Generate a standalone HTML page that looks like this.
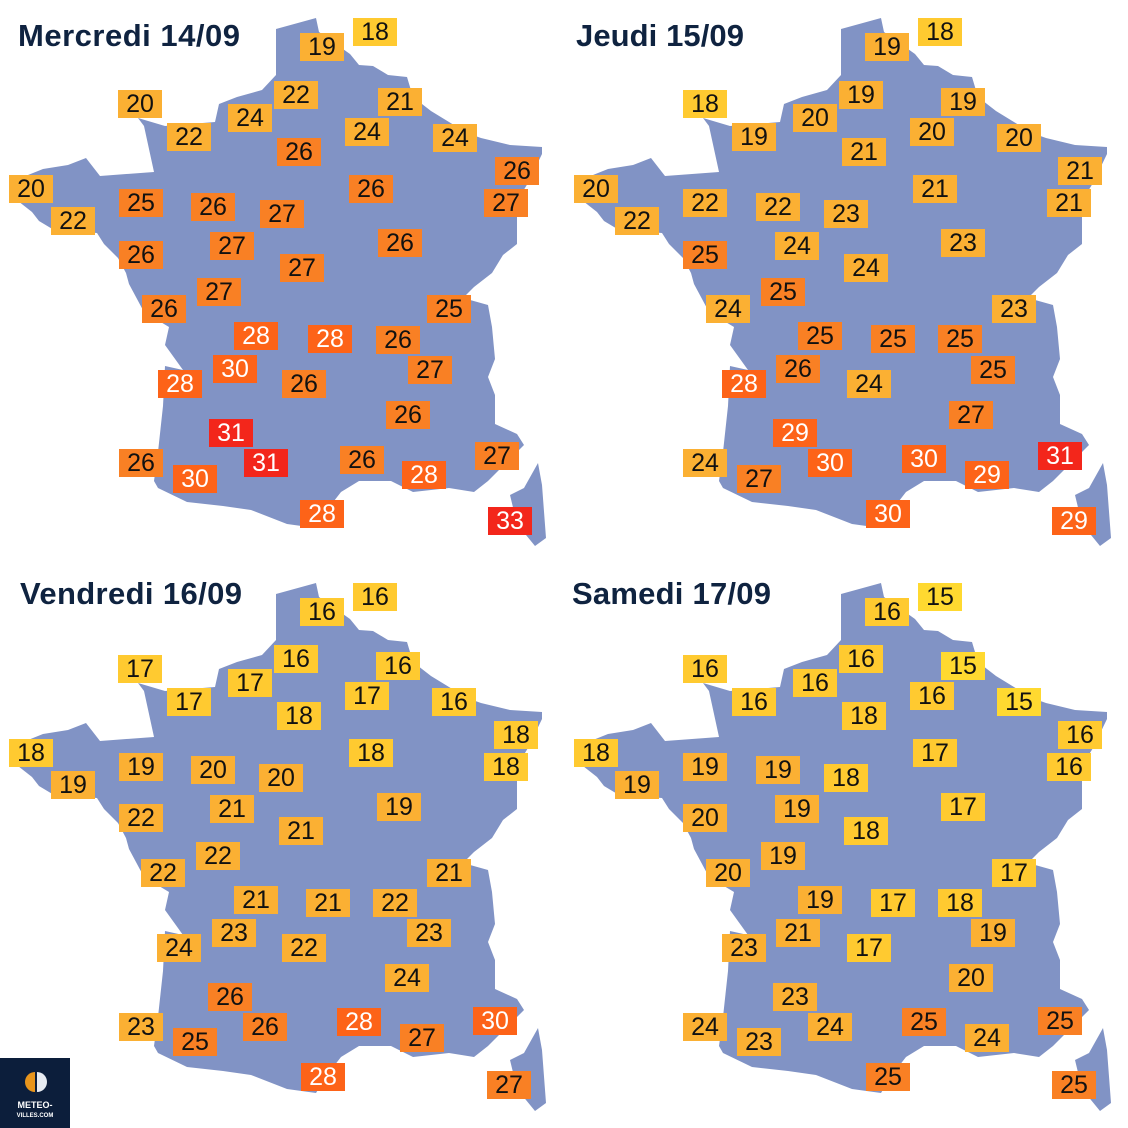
<!DOCTYPE html>
<html><head><meta charset="utf-8"><style>
html,body{margin:0;padding:0;background:#fff}
svg{display:block}
.m{fill:#8193c5}
g.l rect{x:-22px;y:-14px;width:44px;height:28px}
g.l text{font-family:"Liberation Sans",sans-serif;font-size:25px;text-anchor:middle;dominant-baseline:central;fill:#111}
.p rect{fill:#ffd930}.y rect{fill:#ffca30}.o rect{fill:#fbb033}.r rect{fill:#f98024}.d rect{fill:#fd6318}.x rect{fill:#f3261b}
g.d text,g.x text{fill:#fff}
.t{font-family:"Liberation Sans",sans-serif;font-weight:bold;font-size:31px;fill:#0f2340}
</style></head><body>
<svg width="1128" height="1128" viewBox="0 0 1128 1128" xmlns="http://www.w3.org/2000/svg">
<defs>
<g id="fr">
<path class="m" d="M276,29 L316,18 L319,32 L350,54 L359,65 L373,66 L388,75 L407,77 L413,97 L431,111 L467,133 L481,138 L510,145 L542,147 L542,154 L528,183 L517,201 L517,244 L503,255 L492,273 L474,287 L463,298 L488,305 L492,327 L495,359 L488,377 L495,395 L495,424 L517,434 L524,445 L510,459 L488,481 L474,492 L449,488 L413,492 L391,481 L359,481 L341,492 L327,510 L316,528 L287,524 L251,510 L223,506 L187,502 L158,488 L154,481 L158,452 L163,406 L165,366 L183,370 L165,345 L169,327 L144,312 L129,284 L126,273 L118,258 L104,244 L97,233 L54,230 L39,221 L32,212 L18,201 L18,179 L43,169 L68,165 L86,158 L100,176 L154,172 L144,126 L138,118 L165,126 L215,122 L219,104 L237,97 L262,90 L276,75 Z"/>
<path class="m" d="M538,463 L542,485 L546,538 L535,546 L517,524 L510,495 L524,488 Z"/>
</g>
</defs>
<use href="#fr"/>
<use href="#fr" transform="translate(565 0)"/>
<use href="#fr" transform="translate(0 565)"/>
<use href="#fr" transform="translate(565 565)"/>
<text class="t" x="18" y="46" textLength="222">Mercredi 14/09</text>
<text class="t" x="576" y="46" textLength="168">Jeudi 15/09</text>
<text class="t" x="20" y="604" textLength="222">Vendredi 16/09</text>
<text class="t" x="572" y="604" textLength="199">Samedi 17/09</text>

<g>
<g class="l y" transform="translate(375 32)"><rect/><text>18</text></g>
<g class="l o" transform="translate(322 47)"><rect/><text>19</text></g>
<g class="l o" transform="translate(140 104)"><rect/><text>20</text></g>
<g class="l o" transform="translate(189 137)"><rect/><text>22</text></g>
<g class="l o" transform="translate(250 118)"><rect/><text>24</text></g>
<g class="l o" transform="translate(296 95)"><rect/><text>22</text></g>
<g class="l o" transform="translate(400 102)"><rect/><text>21</text></g>
<g class="l o" transform="translate(367 132)"><rect/><text>24</text></g>
<g class="l o" transform="translate(455 138)"><rect/><text>24</text></g>
<g class="l r" transform="translate(299 152)"><rect/><text>26</text></g>
<g class="l r" transform="translate(517 171)"><rect/><text>26</text></g>
<g class="l o" transform="translate(31 189)"><rect/><text>20</text></g>
<g class="l r" transform="translate(141 203)"><rect/><text>25</text></g>
<g class="l r" transform="translate(213 207)"><rect/><text>26</text></g>
<g class="l r" transform="translate(282 214)"><rect/><text>27</text></g>
<g class="l r" transform="translate(371 189)"><rect/><text>26</text></g>
<g class="l r" transform="translate(506 203)"><rect/><text>27</text></g>
<g class="l o" transform="translate(73 221)"><rect/><text>22</text></g>
<g class="l r" transform="translate(141 255)"><rect/><text>26</text></g>
<g class="l r" transform="translate(232 246)"><rect/><text>27</text></g>
<g class="l r" transform="translate(400 243)"><rect/><text>26</text></g>
<g class="l r" transform="translate(302 268)"><rect/><text>27</text></g>
<g class="l r" transform="translate(219 292)"><rect/><text>27</text></g>
<g class="l r" transform="translate(164 309)"><rect/><text>26</text></g>
<g class="l r" transform="translate(449 309)"><rect/><text>25</text></g>
<g class="l d" transform="translate(256 336)"><rect/><text>28</text></g>
<g class="l d" transform="translate(330 339)"><rect/><text>28</text></g>
<g class="l r" transform="translate(398 340)"><rect/><text>26</text></g>
<g class="l d" transform="translate(235 369)"><rect/><text>30</text></g>
<g class="l r" transform="translate(430 370)"><rect/><text>27</text></g>
<g class="l d" transform="translate(180 384)"><rect/><text>28</text></g>
<g class="l r" transform="translate(304 384)"><rect/><text>26</text></g>
<g class="l r" transform="translate(408 415)"><rect/><text>26</text></g>
<g class="l x" transform="translate(231 433)"><rect/><text>31</text></g>
<g class="l x" transform="translate(266 463)"><rect/><text>31</text></g>
<g class="l r" transform="translate(141 463)"><rect/><text>26</text></g>
<g class="l d" transform="translate(195 479)"><rect/><text>30</text></g>
<g class="l r" transform="translate(362 460)"><rect/><text>26</text></g>
<g class="l d" transform="translate(424 475)"><rect/><text>28</text></g>
<g class="l r" transform="translate(497 456)"><rect/><text>27</text></g>
<g class="l d" transform="translate(322 514)"><rect/><text>28</text></g>
<g class="l x" transform="translate(510 521)"><rect/><text>33</text></g>
</g>

<g transform="translate(565 0)">
<g class="l y" transform="translate(375 32)"><rect/><text>18</text></g>
<g class="l o" transform="translate(322 47)"><rect/><text>19</text></g>
<g class="l y" transform="translate(140 104)"><rect/><text>18</text></g>
<g class="l o" transform="translate(189 137)"><rect/><text>19</text></g>
<g class="l o" transform="translate(250 118)"><rect/><text>20</text></g>
<g class="l o" transform="translate(296 95)"><rect/><text>19</text></g>
<g class="l o" transform="translate(398 102)"><rect/><text>19</text></g>
<g class="l o" transform="translate(367 132)"><rect/><text>20</text></g>
<g class="l o" transform="translate(454 138)"><rect/><text>20</text></g>
<g class="l o" transform="translate(299 152)"><rect/><text>21</text></g>
<g class="l o" transform="translate(515 171)"><rect/><text>21</text></g>
<g class="l o" transform="translate(31 189)"><rect/><text>20</text></g>
<g class="l o" transform="translate(140 203)"><rect/><text>22</text></g>
<g class="l o" transform="translate(213 207)"><rect/><text>22</text></g>
<g class="l o" transform="translate(281 214)"><rect/><text>23</text></g>
<g class="l o" transform="translate(370 189)"><rect/><text>21</text></g>
<g class="l o" transform="translate(504 203)"><rect/><text>21</text></g>
<g class="l o" transform="translate(72 221)"><rect/><text>22</text></g>
<g class="l r" transform="translate(140 255)"><rect/><text>25</text></g>
<g class="l o" transform="translate(232 246)"><rect/><text>24</text></g>
<g class="l o" transform="translate(398 243)"><rect/><text>23</text></g>
<g class="l o" transform="translate(301 268)"><rect/><text>24</text></g>
<g class="l r" transform="translate(218 292)"><rect/><text>25</text></g>
<g class="l o" transform="translate(163 309)"><rect/><text>24</text></g>
<g class="l o" transform="translate(449 309)"><rect/><text>23</text></g>
<g class="l r" transform="translate(255 336)"><rect/><text>25</text></g>
<g class="l r" transform="translate(328 339)"><rect/><text>25</text></g>
<g class="l r" transform="translate(395 339)"><rect/><text>25</text></g>
<g class="l r" transform="translate(233 369)"><rect/><text>26</text></g>
<g class="l r" transform="translate(428 370)"><rect/><text>25</text></g>
<g class="l d" transform="translate(179 384)"><rect/><text>28</text></g>
<g class="l o" transform="translate(304 384)"><rect/><text>24</text></g>
<g class="l r" transform="translate(406 415)"><rect/><text>27</text></g>
<g class="l d" transform="translate(230 433)"><rect/><text>29</text></g>
<g class="l d" transform="translate(265 463)"><rect/><text>30</text></g>
<g class="l o" transform="translate(140 463)"><rect/><text>24</text></g>
<g class="l r" transform="translate(194 479)"><rect/><text>27</text></g>
<g class="l d" transform="translate(359 459)"><rect/><text>30</text></g>
<g class="l d" transform="translate(422 475)"><rect/><text>29</text></g>
<g class="l x" transform="translate(495 456)"><rect/><text>31</text></g>
<g class="l d" transform="translate(323 514)"><rect/><text>30</text></g>
<g class="l d" transform="translate(509 521)"><rect/><text>29</text></g>
</g>

<g transform="translate(0 565)">
<g class="l y" transform="translate(375 32)"><rect/><text>16</text></g>
<g class="l y" transform="translate(322 47)"><rect/><text>16</text></g>
<g class="l y" transform="translate(140 104)"><rect/><text>17</text></g>
<g class="l y" transform="translate(189 137)"><rect/><text>17</text></g>
<g class="l y" transform="translate(250 118)"><rect/><text>17</text></g>
<g class="l y" transform="translate(296 94)"><rect/><text>16</text></g>
<g class="l y" transform="translate(398 101)"><rect/><text>16</text></g>
<g class="l y" transform="translate(367 131)"><rect/><text>17</text></g>
<g class="l y" transform="translate(454 137)"><rect/><text>16</text></g>
<g class="l y" transform="translate(299 151)"><rect/><text>18</text></g>
<g class="l y" transform="translate(516 170)"><rect/><text>18</text></g>
<g class="l y" transform="translate(31 188)"><rect/><text>18</text></g>
<g class="l o" transform="translate(141 202)"><rect/><text>19</text></g>
<g class="l o" transform="translate(213 205)"><rect/><text>20</text></g>
<g class="l o" transform="translate(281 213)"><rect/><text>20</text></g>
<g class="l y" transform="translate(371 188)"><rect/><text>18</text></g>
<g class="l y" transform="translate(506 202)"><rect/><text>18</text></g>
<g class="l o" transform="translate(73 220)"><rect/><text>19</text></g>
<g class="l o" transform="translate(141 253)"><rect/><text>22</text></g>
<g class="l o" transform="translate(232 244)"><rect/><text>21</text></g>
<g class="l o" transform="translate(399 242)"><rect/><text>19</text></g>
<g class="l o" transform="translate(301 266)"><rect/><text>21</text></g>
<g class="l o" transform="translate(218 291)"><rect/><text>22</text></g>
<g class="l o" transform="translate(163 308)"><rect/><text>22</text></g>
<g class="l o" transform="translate(449 308)"><rect/><text>21</text></g>
<g class="l o" transform="translate(256 335)"><rect/><text>21</text></g>
<g class="l o" transform="translate(328 338)"><rect/><text>21</text></g>
<g class="l o" transform="translate(395 338)"><rect/><text>22</text></g>
<g class="l o" transform="translate(234 368)"><rect/><text>23</text></g>
<g class="l o" transform="translate(429 368)"><rect/><text>23</text></g>
<g class="l o" transform="translate(179 383)"><rect/><text>24</text></g>
<g class="l o" transform="translate(304 383)"><rect/><text>22</text></g>
<g class="l o" transform="translate(407 413)"><rect/><text>24</text></g>
<g class="l r" transform="translate(230 432)"><rect/><text>26</text></g>
<g class="l r" transform="translate(265 462)"><rect/><text>26</text></g>
<g class="l o" transform="translate(141 462)"><rect/><text>23</text></g>
<g class="l r" transform="translate(195 477)"><rect/><text>25</text></g>
<g class="l d" transform="translate(359 457)"><rect/><text>28</text></g>
<g class="l r" transform="translate(422 473)"><rect/><text>27</text></g>
<g class="l d" transform="translate(495 456)"><rect/><text>30</text></g>
<g class="l d" transform="translate(323 512)"><rect/><text>28</text></g>
<g class="l r" transform="translate(509 520)"><rect/><text>27</text></g>
</g>

<g transform="translate(565 565)">
<g class="l p" transform="translate(375 32)"><rect/><text>15</text></g>
<g class="l y" transform="translate(322 47)"><rect/><text>16</text></g>
<g class="l y" transform="translate(140 104)"><rect/><text>16</text></g>
<g class="l y" transform="translate(189 137)"><rect/><text>16</text></g>
<g class="l y" transform="translate(250 118)"><rect/><text>16</text></g>
<g class="l y" transform="translate(296 94)"><rect/><text>16</text></g>
<g class="l p" transform="translate(398 101)"><rect/><text>15</text></g>
<g class="l y" transform="translate(367 131)"><rect/><text>16</text></g>
<g class="l p" transform="translate(454 137)"><rect/><text>15</text></g>
<g class="l y" transform="translate(299 151)"><rect/><text>18</text></g>
<g class="l y" transform="translate(515 170)"><rect/><text>16</text></g>
<g class="l y" transform="translate(31 188)"><rect/><text>18</text></g>
<g class="l o" transform="translate(140 202)"><rect/><text>19</text></g>
<g class="l o" transform="translate(213 205)"><rect/><text>19</text></g>
<g class="l y" transform="translate(281 213)"><rect/><text>18</text></g>
<g class="l y" transform="translate(370 188)"><rect/><text>17</text></g>
<g class="l y" transform="translate(504 202)"><rect/><text>16</text></g>
<g class="l o" transform="translate(72 220)"><rect/><text>19</text></g>
<g class="l o" transform="translate(140 253)"><rect/><text>20</text></g>
<g class="l o" transform="translate(232 244)"><rect/><text>19</text></g>
<g class="l y" transform="translate(398 242)"><rect/><text>17</text></g>
<g class="l y" transform="translate(301 266)"><rect/><text>18</text></g>
<g class="l o" transform="translate(218 291)"><rect/><text>19</text></g>
<g class="l o" transform="translate(163 308)"><rect/><text>20</text></g>
<g class="l y" transform="translate(449 308)"><rect/><text>17</text></g>
<g class="l o" transform="translate(255 335)"><rect/><text>19</text></g>
<g class="l y" transform="translate(328 338)"><rect/><text>17</text></g>
<g class="l y" transform="translate(395 338)"><rect/><text>18</text></g>
<g class="l o" transform="translate(233 368)"><rect/><text>21</text></g>
<g class="l o" transform="translate(428 368)"><rect/><text>19</text></g>
<g class="l o" transform="translate(179 383)"><rect/><text>23</text></g>
<g class="l y" transform="translate(304 383)"><rect/><text>17</text></g>
<g class="l o" transform="translate(406 413)"><rect/><text>20</text></g>
<g class="l o" transform="translate(230 432)"><rect/><text>23</text></g>
<g class="l o" transform="translate(265 462)"><rect/><text>24</text></g>
<g class="l o" transform="translate(140 462)"><rect/><text>24</text></g>
<g class="l o" transform="translate(194 477)"><rect/><text>23</text></g>
<g class="l r" transform="translate(359 457)"><rect/><text>25</text></g>
<g class="l o" transform="translate(422 473)"><rect/><text>24</text></g>
<g class="l r" transform="translate(495 456)"><rect/><text>25</text></g>
<g class="l r" transform="translate(323 512)"><rect/><text>25</text></g>
<g class="l r" transform="translate(509 520)"><rect/><text>25</text></g>
</g>

<rect x="0" y="1058" width="70" height="70" fill="#0c1e3b"/>
<path d="M35,1072 A10,10 0 0 0 35,1092 Z" fill="#e8951c"/>
<path d="M37,1072 A10,10 0 0 1 37,1092 Z" fill="#e8ecf2"/>
<text x="35" y="1108" font-family="Liberation Sans,sans-serif" font-weight="bold" font-size="9" fill="#fff" text-anchor="middle">METEO-</text>
<text x="35" y="1117" font-family="Liberation Sans,sans-serif" font-weight="bold" font-size="6" fill="#fff" text-anchor="middle">VILLES.COM</text>
</svg>
</body></html>
